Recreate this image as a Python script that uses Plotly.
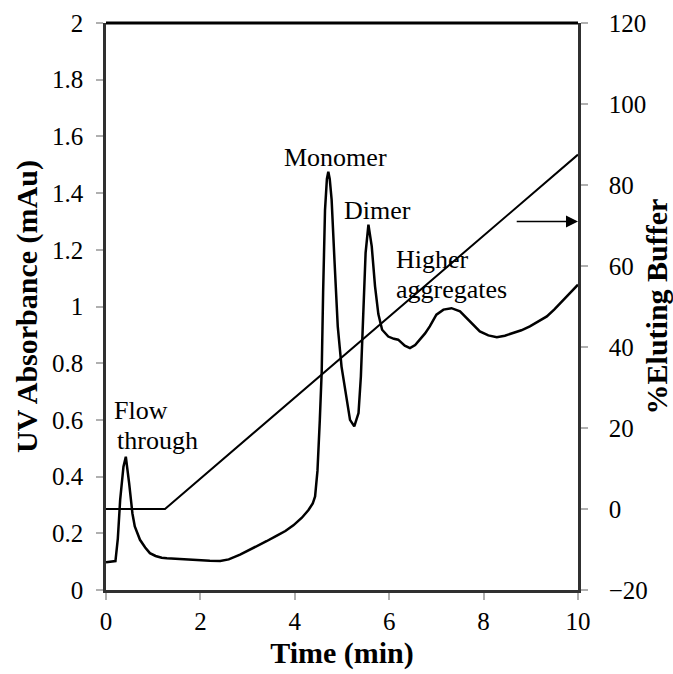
import plotly.graph_objects as go

# UV absorbance trace
time_min = [0, 0.1, 0.2, 0.25, 0.30, 0.37, 0.42, 0.49, 0.56, 0.61,
            0.72, 0.83, 0.93, 1.05, 1.18, 1.29, 1.45, 1.6, 1.8, 1.99,
            2.2, 2.42, 2.6, 2.84, 3.0, 3.19, 3.4, 3.62, 3.8, 3.97,
            4.15, 4.29, 4.38, 4.43, 4.48, 4.53, 4.57, 4.60, 4.64, 4.68,
            4.71, 4.74, 4.78, 4.84, 4.91, 4.99, 5.10, 5.17, 5.26, 5.35,
            5.40, 5.45, 5.50, 5.56, 5.63, 5.70, 5.77, 5.85, 5.98, 6.1,
            6.19, 6.33, 6.44, 6.55, 6.65, 6.76, 6.86, 7.0, 7.15, 7.32,
            7.5, 7.71, 7.92, 8.1, 8.28, 8.45, 8.63, 8.8, 8.98, 9.15,
            9.34, 9.5, 9.69, 9.85, 10.0]
uv_mau = [0.098, 0.100, 0.102, 0.18, 0.318, 0.435, 0.47, 0.377, 0.27, 0.224,
          0.177, 0.150, 0.130, 0.120, 0.114, 0.112, 0.110, 0.108, 0.106, 0.104,
          0.103, 0.102, 0.108, 0.125, 0.138, 0.155, 0.172, 0.192, 0.208, 0.228,
          0.255, 0.282, 0.305, 0.33, 0.42, 0.60, 0.77, 1.05, 1.34, 1.45,
          1.475, 1.45, 1.377, 1.165, 0.93, 0.788, 0.671, 0.60, 0.577, 0.624,
          0.753, 0.989, 1.189, 1.289, 1.212, 1.071, 0.973, 0.918, 0.894, 0.886,
          0.883, 0.862, 0.853, 0.864, 0.883, 0.905, 0.93, 0.971, 0.989, 0.994,
          0.983, 0.948, 0.912, 0.898, 0.892, 0.897, 0.906, 0.916, 0.93, 0.946,
          0.965, 0.99, 1.024, 1.05, 1.077]

# Elution gradient (% eluting buffer)
grad_time = [0, 1.25, 10]
grad_pct = [0, 0, 87.5]

# Labels
label_text = ["Flow", "through", "Monomer", "Dimer", "Higher", "aggregates"]
label_x = [0.13, 0.19, 3.73, 5.0, 6.11, 6.11]
label_y = [0.632, 0.526, 1.525, 1.338, 1.165, 1.059]

arrow_from = (8.67, 71)
arrow_to = (10, 71)

FONT = "Liberation Serif, Times New Roman, serif"

fig = go.Figure()
fig.add_trace(go.Scatter(x=time_min, y=uv_mau, mode="lines",
                         line=dict(color="black", width=2.5), showlegend=False))
fig.add_trace(go.Scatter(x=grad_time, y=grad_pct, mode="lines", yaxis="y2",
                         line=dict(color="black", width=2), showlegend=False))

annotations = []
for t, x, y in zip(label_text, label_x, label_y):
    annotations.append(dict(x=x, y=y, xref="x", yref="y", text=t, showarrow=False,
                            xanchor="left", yanchor="middle",
                            font=dict(family=FONT, size=26, color="black")))
annotations.append(dict(x=arrow_to[0], y=arrow_to[1], xref="x", yref="y2",
                        ax=arrow_from[0], ay=arrow_from[1], axref="x", ayref="y2",
                        text="", showarrow=True, arrowhead=2, arrowsize=1.6,
                        arrowwidth=1.5, arrowcolor="black"))
fig.update_layout(annotations=annotations)

axis_common = dict(showgrid=False, zeroline=False, ticks="outside", ticklen=7,
                   tickcolor="#b0b0b0", tickwidth=1.5, showline=True,
                   linecolor="#303030", linewidth=2.5, automargin=False,
                   tickfont=dict(family=FONT, size=25, color="black"))

fig.update_layout(
    width=673, height=674,
    margin=dict(l=106, r=95, t=23, b=84),
    plot_bgcolor="white", paper_bgcolor="white",
    xaxis=dict(range=[0, 10], dtick=2, tick0=0, ticklabelstandoff=0,
               title=dict(text="<b>Time (min)</b>", standoff=9,
                          font=dict(family=FONT, size=30, color="black")),
               **axis_common),
    yaxis=dict(range=[0, 2], dtick=0.2, tick0=0, ticklabelstandoff=8,
               title=dict(text="<b>UV Absorbance (mAu)</b>", standoff=6,
                          font=dict(family=FONT, size=30, color="black")),
               **axis_common),
    yaxis2=dict(range=[-20, 120], dtick=20, tick0=0, overlaying="y", side="right",
                ticklabelstandoff=16,
                title=dict(text="<b>%Eluting Buffer</b>", standoff=0,
                           font=dict(family=FONT, size=30, color="black")),
                **axis_common),
    shapes=[dict(type="line", xref="paper", yref="paper", x0=0, x1=1, y0=1, y1=1,
                 line=dict(color="black", width=3))],
)

fig.write_html("out.html")
